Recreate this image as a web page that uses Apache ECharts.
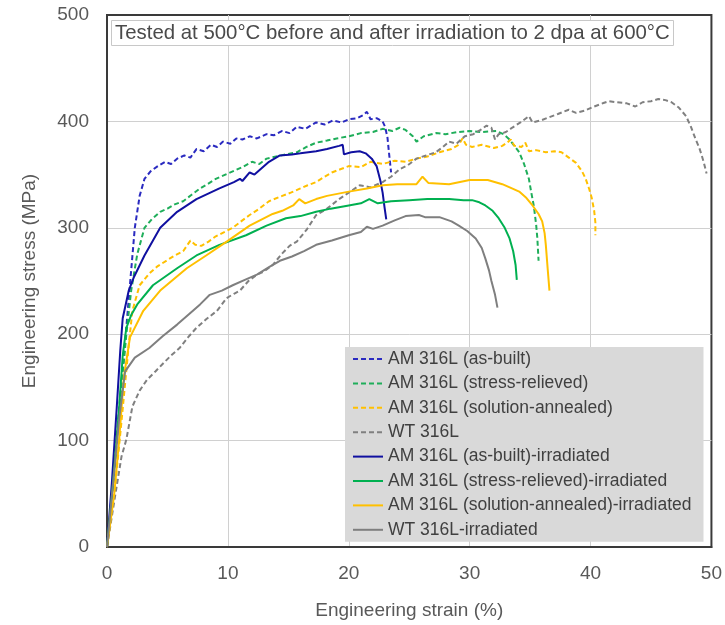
<!DOCTYPE html>
<html>
<head>
<meta charset="utf-8">
<script src="https://cdn.jsdelivr.net/npm/echarts@6/dist/echarts.min.js"></script>
<style>html,body{margin:0;padding:0;background:#fff;}#c{width:725px;height:625px;}</style>
</head>
<body>
<div id="c"></div>
<script>
// ---- Data (strain %, stress MPa) ----
var seriesNames = [
  'AM 316L (as-built)',
  'AM 316L (stress-relieved)',
  'AM 316L (solution-annealed)',
  'WT 316L',
  'AM 316L (as-built)-irradiated',
  'AM 316L (stress-relieved)-irradiated',
  'AM 316L (solution-annealed)-irradiated',
  'WT 316L-irradiated'
];
var xTicks = [0, 10, 20, 30, 40, 50];
var yTicks = [0, 100, 200, 300, 400, 500];

var asBuilt = [[0,0],[0.5,60],[1.0,130],[1.4,180],[1.7,220],[2.0,260],[2.3,300],[2.7,330],[3.1,346],[3.6,353],[4.2,358],[4.8,362],[5.3,360],[5.8,365],[6.4,368],[6.9,366],[7.4,374],[8.0,372],[8.6,378],[9.1,376],[9.6,381],[10.2,379],[10.7,384],[11.2,383],[11.8,386],[12.4,384],[13.2,388],[13.8,387],[14.5,391],[15.1,389],[15.7,395],[16.4,393],[17.3,399],[18.0,397],[18.7,401],[19.4,399],[20.0,402],[20.7,403],[21.2,406],[21.5,409],[21.8,402],[22.3,403],[22.8,400],[23.0,395],[23.2,385],[23.35,368],[23.5,352]];
var stressRelieved = [[0,0],[0.6,70],[1.2,150],[1.6,200],[2.0,241],[2.5,275],[3.1,300],[3.7,308],[4.4,315],[5.0,318],[5.6,322],[6.3,325],[7.0,331],[7.7,337],[8.3,341],[9.0,346],[9.6,349],[10.4,353],[11.2,357],[12.0,362],[12.6,360],[13.2,365],[14.0,367],[14.8,369],[15.7,371],[16.5,376],[17.3,380],[18.2,382],[19.0,384],[20.0,386],[21.0,389],[22.0,390],[22.8,393],[23.6,391],[24.2,394],[24.7,392],[25.3,386],[25.6,381],[26.2,386],[27.2,389],[28.0,388],[29.0,390],[30.0,391],[31.0,390],[32.2,391],[32.8,388],[33.3,383],[33.7,377],[34.1,371],[34.5,360],[34.9,346],[35.1,333],[35.3,321],[35.5,303],[35.6,290],[35.7,269]];
var solAnnealed = [[0,0],[0.7,60],[1.3,130],[1.8,190],[2.1,222],[2.7,246],[3.5,257],[4.2,264],[4.9,269],[5.6,274],[6.3,278],[6.9,288],[7.3,284],[7.8,283],[8.4,287],[9.0,292],[9.7,296],[10.4,300],[11.2,307],[11.8,312],[12.6,318],[13.4,325],[14.5,330],[15.2,333],[16.0,337],[16.6,340],[17.3,343],[18.0,348],[18.6,352],[19.3,355],[20.0,358],[21.0,357],[21.8,362],[22.8,360],[23.8,363],[24.7,362],[25.6,365],[26.5,367],[27.5,371],[28.5,374],[29.1,378],[29.4,384],[29.7,378],[30.2,376],[31.0,378],[32.0,375],[32.7,377],[33.1,380],[33.4,383],[33.7,377],[34.3,376],[34.6,380],[34.9,372],[35.5,373],[36.3,371],[37.0,372],[37.6,371],[38.2,366],[38.8,361],[39.3,353],[39.6,346],[39.9,336],[40.1,328],[40.3,316],[40.4,305],[40.4,293]];
var wt = [[0,0],[0.7,50],[1.2,85],[1.6,101],[2.1,132],[2.7,147],[3.3,157],[4.0,165],[4.6,172],[5.3,180],[6.0,187],[6.7,197],[7.4,206],[8.2,214],[9.1,222],[9.9,234],[10.5,238],[11.0,241],[11.7,250],[12.4,256],[13.0,259],[13.7,265],[14.5,276],[15.1,283],[15.7,287],[16.5,298],[17.3,312],[18.2,318],[19.2,327],[20.0,333],[20.9,340],[21.8,338],[22.8,343],[23.5,348],[24.2,355],[24.9,359],[25.6,365],[26.4,368],[27.2,371],[27.8,376],[28.3,381],[28.9,379],[29.6,386],[30.3,388],[30.9,392],[31.4,396],[31.8,394],[32.1,383],[32.4,388],[33.0,390],[33.5,394],[34.2,399],[34.9,405],[35.2,399],[35.9,401],[36.6,404],[37.3,407],[38.2,411],[38.8,408],[39.5,410],[40.3,414],[41.0,417],[41.5,419],[42.2,418],[43.0,417],[43.7,414],[44.3,418],[45.0,419],[45.6,421],[46.2,420],[46.7,418],[47.3,413],[47.9,405],[48.3,395],[48.7,383],[49.0,375],[49.2,368],[49.4,360],[49.6,351]];
var asBuiltIrr = [[0,0],[0.4,60],[0.8,130],[1.1,185],[1.3,215],[1.8,241],[2.2,253],[3.1,274],[4.4,300],[5.8,315],[7.4,327],[9.3,337],[10.5,343],[11.0,346],[11.2,344],[11.8,352],[12.2,350],[13.4,362],[14.3,368],[15.3,369],[16.0,370],[17.3,372],[18.2,374],[19.2,377],[19.5,378],[19.6,369],[20.2,371],[20.9,372],[21.4,370],[21.9,365],[22.3,358],[22.6,345],[22.8,333],[22.95,320],[23.1,308]];
var stressRelievedIrr = [[0,0],[0.5,60],[1.0,130],[1.3,180],[1.6,206],[2.0,218],[2.5,228],[3.8,246],[5.8,262],[7.4,274],[9.3,284],[11.5,293],[13.2,302],[14.8,309],[16.0,311],[17.3,315],[18.5,318],[20.0,321],[21.0,323],[21.7,327],[22.4,323],[23.5,325],[25.0,326],[26.5,327],[28.3,327],[29.5,326],[30.2,326],[30.8,324],[31.3,321],[31.9,316],[32.4,309],[32.9,300],[33.3,290],[33.6,278],[33.8,265],[33.9,251]];
var solAnnealedIrr = [[0,0],[0.6,50],[1.0,100],[1.4,160],[1.9,197],[3.0,222],[4.4,241],[6.6,262],[8.2,274],[9.9,287],[11.8,302],[13.7,313],[14.5,316],[15.4,321],[15.9,327],[16.4,323],[17.3,327],[18.2,330],[20.0,334],[21.5,337],[22.8,340],[24.0,341],[25.6,341],[26.1,348],[26.6,342],[28.3,341],[30.0,345],[31.5,345],[32.7,341],[33.5,337],[34.1,334],[34.7,328],[35.2,321],[35.7,313],[36.0,306],[36.2,295],[36.3,284],[36.45,262],[36.6,241]];
var wtIrr = [[0,0],[0.5,60],[1.0,120],[1.5,165],[2.3,178],[3.5,187],[4.6,198],[5.8,209],[6.8,219],[7.7,228],[8.5,237],[9.5,241],[10.4,246],[11.4,251],[12.4,256],[13.4,263],[14.3,269],[15.3,273],[16.3,278],[17.3,284],[18.6,288],[20.0,293],[21.0,296],[21.5,301],[22.0,299],[22.8,302],[23.8,307],[24.7,311],[25.8,312],[26.3,310],[27.5,310],[28.5,306],[29.1,302],[29.8,297],[30.5,290],[31.0,281],[31.3,271],[31.6,260],[31.8,250],[32.1,237],[32.3,225]];

var seriesData = [asBuilt, stressRelieved, solAnnealed, wt, asBuiltIrr, stressRelievedIrr, solAnnealedIrr, wtIrr];
var seriesColors = ['#2a2ac0', '#1fae5a', '#ffc000', '#808080', '#1010a0', '#00b050', '#ffc000', '#7f7f7f'];
var dashed = [true, true, true, true, false, false, false, false];

var FONT = 'Liberation Sans, Arial, sans-serif';
var chart = echarts.init(document.getElementById('c'), null, {renderer: 'canvas'});

var series = seriesNames.map(function (n, i) {
  return {
    name: n,
    type: 'line',
    data: seriesData[i],
    showSymbol: false,
    symbol: 'none',
    smooth: false,
    z: dashed[i] ? 3 : 4,
    lineStyle: { color: seriesColors[i], width: 2, type: dashed[i] ? [5, 3] : 'solid' },
    itemStyle: { color: seriesColors[i] }
  };
});

chart.setOption({
  animation: false,
  backgroundColor: '#ffffff',
  textStyle: { fontFamily: FONT },
  title: {
    text: 'Tested at 500°C before and after irradiation to 2 dpa at 600°C',
    left: 111, top: 20,
    padding: [3, 4],
    backgroundColor: '#ffffff',
    borderColor: '#c8c8c8',
    borderWidth: 1,
    textStyle: { fontFamily: FONT, fontSize: 20.4, fontWeight: 'normal', color: '#4a4a4a' }
  },
  legend: {
    orient: 'vertical',
    left: 345, top: 347,
    padding: [3, 12, 3, 7],
    backgroundColor: '#d9d9d9',
    itemWidth: 30, itemHeight: 14, itemGap: 6.4,
    itemStyle: { opacity: 0, borderWidth: 0 },
    textStyle: { fontFamily: FONT, fontSize: 17.5, color: '#404040', lineHeight: 18 },
    data: seriesNames.map(function (n) { return { name: n }; })
  },
  grid: {
    left: 107, right: 12, top: 15, bottom: 74,
    show: true, borderColor: '#3a3a3a', borderWidth: 2, backgroundColor: 'transparent'
  },
  xAxis: {
    type: 'value', min: xTicks[0], max: xTicks[xTicks.length - 1], interval: 10,
    name: 'Engineering strain (%)', nameLocation: 'middle', nameGap: 54,
    nameTextStyle: { fontFamily: FONT, fontSize: 19, color: '#595959' },
    axisLine: { show: true, lineStyle: { color: '#3a3a3a', width: 2 } },
    axisTick: { show: false },
    axisLabel: { margin: 17, fontFamily: FONT, fontSize: 19, color: '#595959' },
    splitLine: { show: true, showMinLine: false, showMaxLine: false, lineStyle: { color: '#d0d0d0', width: 1 } }
  },
  yAxis: {
    type: 'value', min: yTicks[0], max: yTicks[yTicks.length - 1], interval: 100,
    name: 'Engineering stress (MPa)', nameLocation: 'middle', nameGap: 68, nameRotate: 90,
    nameTextStyle: { fontFamily: FONT, fontSize: 19, color: '#595959' },
    axisLine: { show: true, lineStyle: { color: '#3a3a3a', width: 2 } },
    axisTick: { show: false },
    axisLabel: { margin: 18, fontFamily: FONT, fontSize: 19, color: '#595959' },
    splitLine: { show: true, showMinLine: false, showMaxLine: false, lineStyle: { color: '#d0d0d0', width: 1 } }
  },
  series: series
});
</script>
</body>
</html>
